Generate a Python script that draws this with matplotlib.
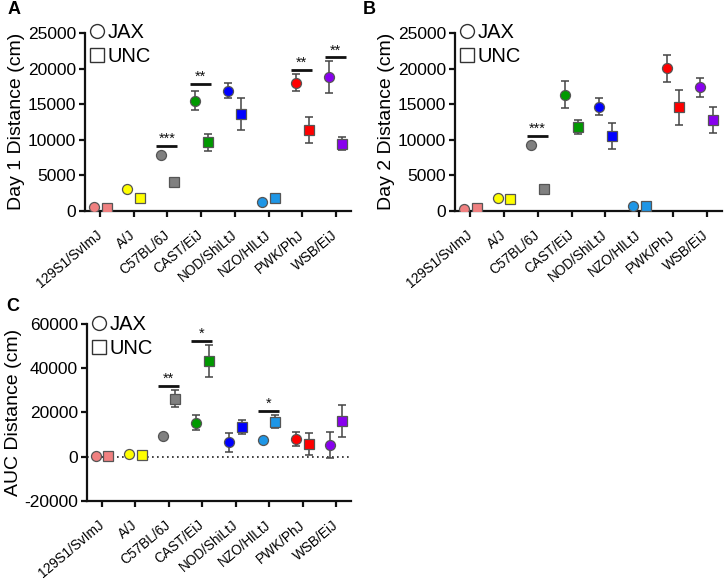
import matplotlib
matplotlib.use("Agg")
import matplotlib.pyplot as plt
from matplotlib.lines import Line2D
import numpy as np

plt.rcParams['font.family'] = ['Liberation Sans', 'DejaVu Sans']

strains = ["129S1/SvImJ", "A/J", "C57BL/6J", "CAST/EiJ", "NOD/ShiLtJ", "NZO/HlLtJ", "PWK/PhJ", "WSB/EiJ"]
colors = ["#F08080", "#FFFF00", "#808080", "#009900", "#0000FF", "#1E96E6", "#FF0000", "#8800EE"]

# Day 1
day1_jax = [500, 3000, 7900, 15500, 16900, 1180, 18000, 18800]
day1_jax_err = [0, 0, 0, 1400, 1050, 0, 1200, 2200]
day1_unc = [350, 1800, 4000, 9600, 13600, 1800, 11350, 9450]
day1_unc_err = [0, 0, 0, 1200, 2200, 0, 1800, 850]
day1_sig = [(2, 9150, "***"), (3, 17830, "**"), (6, 19840, "**"), (7, 21580, "**")]

# Day 2
day2_jax = [250, 1800, 9200, 16300, 14650, 700, 20050, 17350]
day2_jax_err = [0, 0, 0, 1900, 1200, 0, 1900, 1300]
day2_unc = [400, 1600, 3100, 11800, 10550, 700, 14550, 12750]
day2_unc_err = [0, 0, 0, 950, 1800, 0, 2500, 1800]
day2_sig = [(2, 10570, "***")]

# AUC
auc_jax = [300, 1200, 9400, 15400, 6400, 7400, 8000, 5200]
auc_jax_err = [0, 0, 0, 3400, 4450, 0, 3200, 6000]
auc_unc = [450, 600, 26300, 43200, 13300, 15700, 5800, 16200]
auc_unc_err = [0, 0, 3900, 7200, 3250, 2950, 4900, 7250]
auc_sig = [(2, 32050, "**"), (3, 52600, "*"), (5, 20850, "*")]

W, H = 725, 580
fig = plt.figure(figsize=(W / 100, H / 100), dpi=100)

def px_axes(left, right, top, bottom):
    return fig.add_axes([left / W, 1 - bottom / H, (right - left) / W, (bottom - top) / H])

def draw(ax, jax, jerr, unc, uerr, sig, ylim, yticks, ylabel, zero_line=False):
    x = np.arange(len(strains))
    off = 0.19
    if zero_line:
        ax.axhline(0, color="#222222", lw=1.2, ls=(0, (1, 2)), zorder=0)
    for i in range(len(strains)):
        ax.errorbar(x[i] - off, jax[i], yerr=jerr[i], fmt="none", ecolor="#444444",
                    elinewidth=1.1, capsize=3.2, capthick=1.1, zorder=2)
        ax.errorbar(x[i] + off, unc[i], yerr=uerr[i], fmt="none", ecolor="#444444",
                    elinewidth=1.1, capsize=3.2, capthick=1.1, zorder=2)
        ax.plot(x[i] - off, jax[i], marker="o", ms=7.2, mfc=colors[i], mec="#555555",
                mew=0.9, ls="none", zorder=3)
        ax.plot(x[i] + off, unc[i], marker="s", ms=7.0, mfc=colors[i], mec="#555555",
                mew=0.9, ls="none", zorder=3)
    for (i, yv, s) in sig:
        ax.plot([i - 0.33, i + 0.29], [yv, yv], color="#111111", lw=2.0, solid_capstyle="butt", zorder=4)
        ax.text(i - 0.02, yv, s, ha="center", va="bottom", fontsize=10.5, color="#111111")
    ax.set_xlim(-0.45, 7.45)
    ax.set_ylim(*ylim)
    ax.set_yticks(yticks)
    ax.set_yticklabels([str(v) for v in yticks], fontsize=12.5)
    ax.set_xticks(x)
    ax.set_xticklabels(strains, rotation=40, ha="right", va="center",
                       rotation_mode="anchor", fontsize=9.8)
    ax.set_ylabel(ylabel, fontsize=14, labelpad=2)
    for sp in ["top", "right"]:
        ax.spines[sp].set_visible(False)
    for sp in ["left", "bottom"]:
        ax.spines[sp].set_linewidth(1.6)
        ax.spines[sp].set_color("#111111")
    ax.tick_params(axis="both", direction="out", length=4.3, width=1.6, color="#111111", pad=2)
    ax.tick_params(axis="x", pad=12)
    handles = [Line2D([], [], marker="o", ls="none", mfc="white", mec="#333333", ms=10, mew=1.0),
               Line2D([], [], marker="s", ls="none", mfc="white", mec="#333333", ms=9.5, mew=1.0)]
    ax.legend(handles, ["JAX", "UNC"], loc="upper left", bbox_to_anchor=(-0.01, 1.1),
              frameon=False, fontsize=14.5, handletextpad=0.15, labelspacing=0.25,
              borderaxespad=0, handlelength=0.7)

axA = px_axes(85, 351, 33, 210.7)
draw(axA, day1_jax, day1_jax_err, day1_unc, day1_unc_err, day1_sig,
     (0, 25000), [0, 5000, 10000, 15000, 20000, 25000], "Day 1 Distance (cm)")
axB = px_axes(455, 722, 33, 210.7)
draw(axB, day2_jax, day2_jax_err, day2_unc, day2_unc_err, day2_sig,
     (0, 25000), [0, 5000, 10000, 15000, 20000, 25000], "Day 2 Distance (cm)")
axC = px_axes(87, 351, 324.3, 500.7)
draw(axC, auc_jax, auc_jax_err, auc_unc, auc_unc_err, auc_sig,
     (-20000, 60000), [-20000, 0, 20000, 40000, 60000], "AUC Distance (cm)", zero_line=True)

fig.text(8 / W, 1 - 10 / H, "A", fontsize=13, fontweight="bold", va="center", ha="left")
fig.text(363 / W, 1 - 10 / H, "B", fontsize=13, fontweight="bold", va="center", ha="left")
fig.text(6 / W, 1 - 306 / H, "C", fontsize=13, fontweight="bold", va="center", ha="left")

fig.savefig("out.png", dpi=100)
